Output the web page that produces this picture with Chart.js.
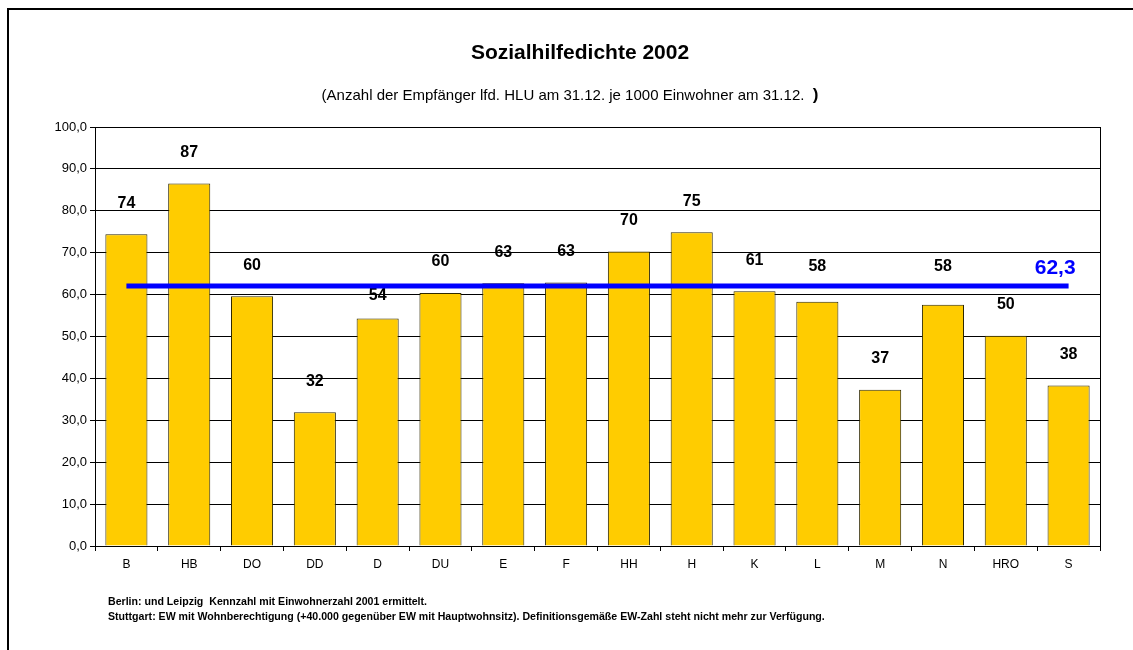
<!DOCTYPE html>
<html>
<head>
<meta charset="utf-8">
<title>Sozialhilfedichte 2002</title>
<script src="https://cdn.jsdelivr.net/npm/chart.js@4.4.0/dist/chart.umd.min.js"></script>
<style>
  html, body { margin: 0; padding: 0; background: #fff; }
  #wrap { position: relative; width: 1133px; height: 650px; }
</style>
</head>
<body>
<div id="wrap"><canvas id="chart-area" width="1133" height="650"></canvas></div>
<script>
// Städte (Kürzel) und Empfänger je 1000 Einwohner
var cities = ['B', 'HB', 'DO', 'DD', 'D', 'DU', 'E', 'F', 'HH', 'H', 'K', 'L', 'M', 'N', 'HRO', 'S'];
var density = [74.4, 86.5, 59.6, 31.9, 54.3, 60.4, 62.7, 62.9, 70.3, 74.9, 60.8, 58.3, 37.3, 57.6, 50.2, 38.3];
var average = 62.3;
var yTicks = [0, 10, 20, 30, 40, 50, 60, 70, 80, 90, 100];

var titleText = 'Sozialhilfedichte 2002';
var subtitleText = '(Anzahl der Empfänger lfd. HLU am 31.12. je 1000 Einwohner am 31.12.  ';
var notes = [
  'Berlin: und Leipzig  Kennzahl mit Einwohnerzahl 2001 ermittelt.',
  'Stuttgart: EW mit Wohnberechtigung (+40.000 gegenüber EW mit Hauptwohnsitz). Definitionsgemäße EW-Zahl steht nicht mehr zur Verfügung.'
];

var FONT = 'Arial, "Liberation Sans", sans-serif';

function fmt(v) {
  return v.toFixed(1).replace('.', ',');
}

// Rahmen, Überschriften, Fußnoten, Mittelwertlinie und Werte über den Säulen
var decorations = {
  id: 'decorations',
  beforeDraw: function (chart) {
    var ctx = chart.ctx;
    ctx.save();
    ctx.fillStyle = '#fff';
    ctx.fillRect(0, 0, chart.width, chart.height);
    // Rahmen (oben und links)
    ctx.fillStyle = '#000';
    ctx.fillRect(7, 8, chart.width - 7, 2);
    ctx.fillRect(7, 8, 2, chart.height - 8);

    ctx.textBaseline = 'middle';
    ctx.textAlign = 'center';
    ctx.font = 'bold 21px ' + FONT;
    ctx.fillText(titleText, 580, 53);

    ctx.font = '15px ' + FONT;
    var w1 = ctx.measureText(subtitleText).width;
    ctx.font = 'bold 17px ' + FONT;
    var w2 = ctx.measureText(')').width;
    var x0 = 570 - (w1 + w2) / 2;
    ctx.textAlign = 'left';
    ctx.font = '15px ' + FONT;
    ctx.fillText(subtitleText, x0, 96);
    ctx.font = 'bold 17px ' + FONT;
    ctx.fillText(')', x0 + w1, 95);

    ctx.font = 'bold 10.6px ' + FONT;
    ctx.fillText(notes[0], 108, 602);
    ctx.fillText(notes[1], 108, 617);
    ctx.restore();
  },
  afterDatasetsDraw: function (chart) {
    var ctx = chart.ctx;
    var x = chart.scales.x;
    var y = chart.scales.y;
    var area = chart.chartArea;
    var yAvg = y.getPixelForValue(average);
    ctx.save();

    // rechter Rand der Zeichenfläche
    ctx.strokeStyle = '#000';
    ctx.lineWidth = 1;
    ctx.beginPath();
    ctx.moveTo(Math.round(area.right) + 0.5, area.top);
    ctx.lineTo(Math.round(area.right) + 0.5, area.bottom);
    ctx.stroke();

    // Werte über den Säulen; nicht auf die Mittelwertlinie legen
    ctx.fillStyle = '#000';
    ctx.font = 'bold 16px ' + FONT;
    ctx.textAlign = 'center';
    ctx.textBaseline = 'middle';
    var meta = chart.getDatasetMeta(0);
    meta.data.forEach(function (bar, i) {
      var ly = bar.y - 31;
      if (ly > yAvg - 4 && ly < yAvg + 12) {
        ly = yAvg + 11;
      } else if (ly > yAvg - 18 && ly <= yAvg - 4) {
        ly = yAvg - 18;
      }
      ctx.fillText(String(Math.round(density[i])), bar.x, ly);
    });

    // Mittelwert
    var xStart = x.getPixelForValue(0);
    var xEnd = x.getPixelForValue(cities.length - 1);
    ctx.strokeStyle = '#0000ff';
    ctx.lineWidth = 5;
    ctx.beginPath();
    ctx.moveTo(xStart, yAvg + 1);
    ctx.lineTo(xEnd, yAvg + 1);
    ctx.stroke();

    ctx.fillStyle = '#0000ff';
    ctx.font = 'bold 21px ' + FONT;
    ctx.textAlign = 'right';
    ctx.fillText(fmt(average), xEnd + 7, yAvg - 17);
    ctx.restore();
  }
};

var ctx = document.getElementById('chart-area').getContext('2d');
window.myBar = new Chart(ctx, {
  type: 'bar',
  data: {
    labels: cities,
    datasets: [{
      label: 'Sozialhilfedichte',
      data: density,
      backgroundColor: '#ffcc00',
      borderColor: '#2e2800',
      borderWidth: 1,
      barPercentage: 0.67,
      categoryPercentage: 1.0
    }]
  },
  options: {
    responsive: false,
    animation: false,
    layout: { padding: { top: 127, right: 33, bottom: 0, left: 0 } },
    plugins: {
      legend: { display: false },
      tooltip: { enabled: false }
    },
    scales: {
      x: {
        offset: true,
        grid: { display: true, drawOnChartArea: false, drawTicks: true, tickLength: 5, offset: true, color: '#000' },
        border: { display: true, color: '#000', width: 1 },
        ticks: { color: '#000', padding: 6, font: { family: FONT, size: 12 }, maxRotation: 0 },
        afterFit: function (scale) { scale.height = 104; }
      },
      y: {
        min: 0,
        max: 100,
        afterBuildTicks: function (scale) {
          scale.ticks = yTicks.map(function (v) { return { value: v }; });
        },
        grid: { color: '#000', lineWidth: 1, drawTicks: true, tickLength: 5 },
        border: { display: true, color: '#000', width: 1 },
        ticks: {
          color: '#000',
          padding: 3,
          font: { family: FONT, size: 13 },
          callback: function (v) { return fmt(v); }
        },
        afterFit: function (scale) { scale.width = 95; }
      }
    }
  },
  plugins: [decorations]
});
</script>
</body>
</html>
